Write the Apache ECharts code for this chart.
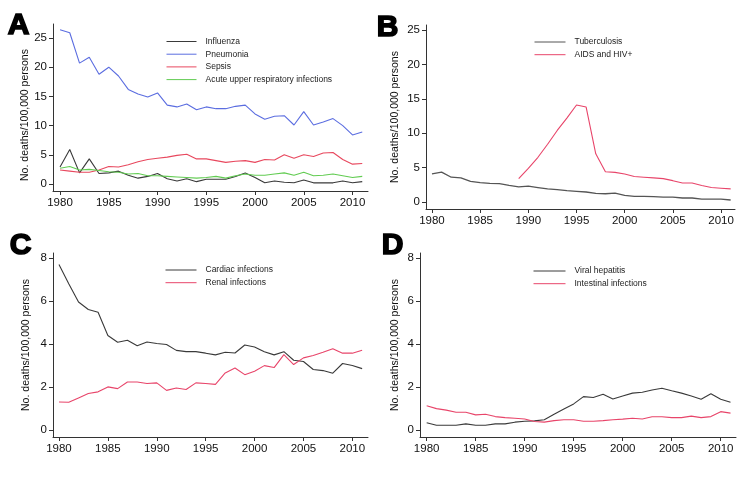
<!DOCTYPE html>
<html>
<head>
<meta charset="utf-8">
<script src="https://cdn.jsdelivr.net/npm/echarts@6/dist/echarts.min.js"></script>
<style>html,body{margin:0;padding:0;background:#fff;}#c{width:750px;height:477px;}</style>
</head>
<body>
<div id="c"></div>
<script>
const years = [1980,1981,1982,1983,1984,1985,1986,1987,1988,1989,1990,1991,1992,1993,1994,1995,1996,1997,1998,1999,2000,2001,2002,2003,2004,2005,2006,2007,2008,2009,2010,2011];
const xTickLabels = [1980,1985,1990,1995,2000,2005,2010];
const yTicksAB = [0,5,10,15,20,25];
const yTicksCD = [0,2,4,6,8];

// Panel A
const influenza = [2.9,5.9,1.9,4.3,1.8,1.9,2.2,1.5,1.0,1.3,1.8,0.9,0.5,0.9,0.4,0.8,0.8,0.8,1.3,1.9,1.1,0.2,0.5,0.3,0.2,0.7,0.2,0.2,0.2,0.5,0.2,0.4];
const pneumonia = [26.4,25.9,20.7,21.7,18.8,20.0,18.5,16.2,15.4,14.9,15.6,13.5,13.2,13.7,12.7,13.2,12.9,12.9,13.3,13.5,12.0,11.1,11.6,11.7,10.1,12.4,10.1,10.6,11.2,10.0,8.4,8.9];
const sepsis = [2.4,2.2,2.0,2.0,2.4,3.0,2.9,3.3,3.8,4.2,4.4,4.6,4.9,5.1,4.3,4.3,4.0,3.7,3.9,4.0,3.7,4.2,4.1,5.0,4.4,5.0,4.7,5.3,5.4,4.2,3.4,3.5];
const acuteURI = [2.7,3.0,2.4,2.5,2.3,2.1,2.0,1.7,1.8,1.4,1.4,1.3,1.2,1.1,1.0,1.1,1.3,1.0,1.4,1.7,1.5,1.5,1.7,1.9,1.5,2.0,1.4,1.5,1.7,1.4,1.1,1.3];
// Panel B
const tuberculosis = [4.1,4.35,3.6,3.5,3.0,2.8,2.7,2.66,2.4,2.2,2.3,2.1,1.9,1.8,1.65,1.55,1.45,1.25,1.2,1.3,0.97,0.82,0.82,0.77,0.72,0.72,0.58,0.58,0.43,0.43,0.43,0.29];
const aidsHiv = [null,null,null,null,null,null,null,null,null,3.4,4.9,6.5,8.4,10.4,12.2,14.1,13.8,7.0,4.4,4.3,4.06,3.7,3.6,3.5,3.4,3.1,2.75,2.75,2.4,2.1,2.0,1.9];
// Panel C
const cardiac = [7.69,6.8,5.95,5.6,5.47,4.39,4.08,4.17,3.92,4.09,4.02,3.97,3.7,3.64,3.64,3.57,3.49,3.61,3.58,3.95,3.86,3.64,3.49,3.64,3.24,3.18,2.81,2.76,2.64,3.09,3.0,2.85];
const renal = [1.30,1.29,1.49,1.69,1.77,2.0,1.92,2.23,2.23,2.16,2.19,1.84,1.95,1.88,2.19,2.16,2.12,2.65,2.88,2.57,2.73,2.99,2.90,3.5,3.04,3.35,3.46,3.61,3.78,3.57,3.57,3.71];
// Panel D
const viralHepatitis = [0.33,0.22,0.22,0.22,0.28,0.22,0.22,0.28,0.28,0.36,0.40,0.42,0.47,0.73,0.97,1.21,1.55,1.51,1.66,1.44,1.58,1.71,1.75,1.86,1.94,1.82,1.71,1.58,1.43,1.68,1.43,1.29];
const intestinal = [1.12,0.99,0.92,0.82,0.82,0.70,0.73,0.62,0.57,0.54,0.51,0.39,0.36,0.43,0.47,0.47,0.40,0.40,0.43,0.47,0.50,0.54,0.51,0.61,0.61,0.57,0.57,0.64,0.57,0.62,0.85,0.78];

const FONT = '"Liberation Sans", Arial, Helvetica, sans-serif';
const AXC = '#333';
const yTitle = 'No. deaths/100,000 persons';

function pairs(vals){ return years.map((y,i)=>[y, vals[i]]); }

function xAx(idx, min, max){
  return {
    type:'value', gridIndex:idx, min:min, max:max,
    axisLine:{show:true, onZero:false, lineStyle:{color:AXC, width:1}},
    axisTick:{show:true, length:4, lineStyle:{color:AXC}, customValues:xTickLabels},
    axisLabel:{margin:6, fontSize:11.5, color:'#111', fontFamily:FONT, customValues:xTickLabels, formatter:v=>String(v)},
    splitLine:{show:false}
  };
}
function yAx(idx, min, max, ticks, gap, pad){
  return {
    type:'value', gridIndex:idx, min:min, max:max,
    name:yTitle, nameLocation:'middle', nameGap:gap,
    nameTextStyle:{fontSize:10.5, color:'#111', fontFamily:FONT, padding:pad||0},
    axisLine:{show:true, onZero:false, lineStyle:{color:AXC, width:1}},
    axisTick:{show:true, length:4, lineStyle:{color:AXC}, customValues:ticks},
    axisLabel:{margin:6, fontSize:11.5, color:'#111', fontFamily:FONT, customValues:ticks, formatter:v=>String(v)},
    splitLine:{show:false}
  };
}
function line(name, vals, color, idx, w){
  return {
    type:'line', name:name, xAxisIndex:idx, yAxisIndex:idx,
    data:pairs(vals), showSymbol:false, symbol:'none', connectNulls:false,
    lineStyle:{color:color, width:w||1.1}, itemStyle:{color:color}, silent:true
  };
}
function leg(names, left, top, w){
  return {
    data:names, orient:'vertical', left:left, top:top,
    itemWidth:w, itemHeight:9, itemGap:3.7, padding:0,
    itemStyle:{opacity:0, borderWidth:0},
    lineStyle:{width:1},
    selectedMode:false,
    textStyle:{fontSize:8.5, color:'#222', fontFamily:FONT, lineHeight:9, padding:[0,0,0,4]}
  };
}
function letter(t, x, y){
  return {type:'text', left:x, top:y, style:{text:t, fontSize:30, fontWeight:'bold', fontFamily:FONT, fill:'#000', stroke:'#000', lineWidth:1.6}};
}

const BLACK='#3a3a3a', BLUE='#5b6de0', RED='#e8485e', GREEN='#62cc52', GRAY='#555', PINK='#e8456a';

const option = {
  animation:false,
  backgroundColor:'#fff',
  grid:[
    {left:53, top:24, width:315, height:167},
    {left:426, top:25, width:309, height:184},
    {left:53, top:253, width:315, height:184},
    {left:420, top:253, width:316, height:184}
  ],
  xAxis:[
    xAx(0, 1979.28, 2011.59),
    xAx(1, 1979.38, 2011.45),
    xAx(2, 1979.39, 2011.6),
    xAx(3, 1979.32, 2011.56)
  ],
  yAxis:[
    yAx(0, -1.2, 27.4, yTicksAB, 20, [0,15,0,0]),
    yAx(1, -1.02, 25.73, yTicksAB, 25),
    yAx(2, -0.33, 8.23, yTicksCD, 21),
    yAx(3, -0.33, 8.23, yTicksCD, 19)
  ],
  legend:[
    leg(['Influenza','Pneumonia','Sepsis','Acute upper respiratory infections'], 166, 37, 30),
    leg(['Tuberculosis','AIDS and HIV+'], 534, 37.5, 31),
    leg(['Cardiac infections','Renal infections'], 165, 265.5, 31),
    leg(['Viral hepatitis','Intestinal infections'], 533, 266.5, 32)
  ],
  graphic:[
    letter('A', 7, 10),
    letter('B', 376, 11.5),
    letter('C', 9, 230),
    letter('D', 381, 230)
  ],
  series:[
    line('Influenza', influenza, BLACK, 0),
    line('Pneumonia', pneumonia, BLUE, 0),
    line('Sepsis', sepsis, RED, 0),
    line('Acute upper respiratory infections', acuteURI, GREEN, 0),
    line('Tuberculosis', tuberculosis, GRAY, 1, 1.3),
    line('AIDS and HIV+', aidsHiv, PINK, 1),
    line('Cardiac infections', cardiac, BLACK, 2),
    line('Renal infections', renal, PINK, 2),
    line('Viral hepatitis', viralHepatitis, BLACK, 3),
    line('Intestinal infections', intestinal, PINK, 3)
  ]
};
const chart = echarts.init(document.getElementById('c'), null, {renderer:'canvas'});
chart.setOption(option);
</script>
</body>
</html>
